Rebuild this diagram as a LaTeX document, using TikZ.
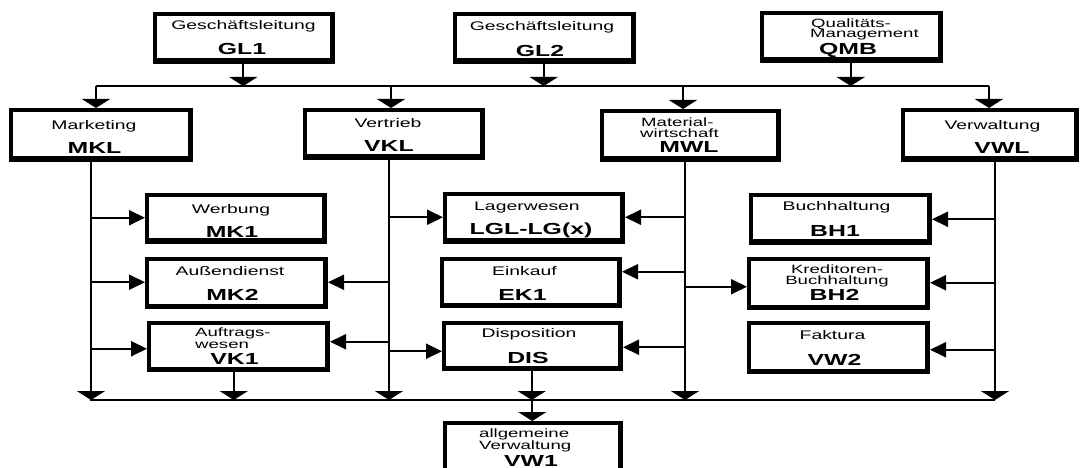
\documentclass[tikz,border=0pt]{standalone}
\usepackage{fontspec}
\setmainfont{Liberation Sans}[FakeStretch=1.55]
\usetikzlibrary{arrows.meta,calc}
\tikzset{
 ob/.style={draw, line width=4pt, inner sep=0pt, outer sep=0pt},
 obsh/.style={line width=3pt, line cap=butt, line join=miter},
 tn/.style={anchor=base, inner sep=0pt, font=\fontsize{12.5}{13}\selectfont},
 tnw/.style={anchor=base west, inner sep=0pt, font=\fontsize{12}{13}\selectfont},
 ts/.style={anchor=base, inner sep=0pt, font=\fontsize{12}{13}\selectfont},
 tb/.style={anchor=base, inner sep=0pt, font=\fontsize{16}{16}\selectfont\bfseries},
 conn/.style={line width=2pt},
 varr/.style={conn, -{Triangle[width=28pt,length=9pt]}},
 harr/.style={conn, -{Triangle[width=15pt,length=16pt]}},
 tobox/.style={shorten >=2pt},
 busline/.style={line width=1.7pt},
}
% box: name, x1, y1, x2, y2 (outer edges, y downwards)
\newcommand\orgbox[5]{%
 \node[ob, minimum width={#4-#2-5.5}, minimum height={#5-#3-5.5}] (#1) at ({(#2+#4)/2-0.75},{(#3+#5)/2-0.75}) {};
 \draw[obsh] ([shift={(2,-2)}]#1.north east) -- ([shift={(2,2)}]#1.south east) -- ([shift={(-2,2)}]#1.south west);
}
% text lines: name, x (centre or left), y (visual centre), text
\newcommand\tN[4]{\node[tn] (#1) at (#2,{#3+4.5}) {#4};}
\newcommand\tS[4]{\node[ts] (#1) at (#2,{#3+4.3}) {#4};}
\newcommand\tW[4]{\node[tnw] (#1) at (#2,{#3+4.3}) {#4};}
\newcommand\tB[4]{\node[tb] (#1) at (#2,{#3+4}) {#4};}
\begin{document}
\begin{tikzpicture}[x=1pt,y=-1pt]
\useasboundingbox (0,0) rectangle (1080,468);
\clip (0,0) rectangle (1080,468);
% boxes
\orgbox{gl1}{153}{12}{335}{64}
\orgbox{gl2}{453}{12}{636}{64}
\orgbox{qmb}{760}{11}{943}{63}
\orgbox{mkl}{9}{108}{193}{162}
\orgbox{vkl}{303}{108}{485}{160}
\orgbox{mwl}{600}{109}{781}{162}
\orgbox{vwl}{901}{108}{1079}{162}
\orgbox{mk1}{145}{193}{327}{244}
\orgbox{mk2}{145}{257}{328}{309}
\orgbox{vk1}{147}{321}{330}{372}
\orgbox{lgl}{443}{192}{625}{244}
\orgbox{ek1}{440}{257}{622}{308}
\orgbox{dis}{442}{321}{623}{371}
\orgbox{bh1}{749}{193}{932}{245}
\orgbox{bh2}{747}{257}{930}{310}
\orgbox{vw2}{747}{321}{930}{374}
\orgbox{vw1}{443}{421}{623}{473}
% texts
\tN{gl1a}{243.5}{25.5}{Geschäftsleitung}
\tB{gl1b}{242}{50.5}{GL1}
\tN{gl2a}{542}{26}{Geschäftsleitung}
\tB{gl2b}{540}{52.5}{GL2}
\tW{qmba}{811}{23}{Qualitäts-}
\tW{qmbb}{810}{33}{Management}
\tB{qmbc}{848}{51}{QMB}
\tN{mkla}{94}{125}{Marketing}
\tB{mklb}{94.5}{149.5}{MKL}
\tN{vkla}{388}{123.5}{Vertrieb}
\tB{vklb}{389}{148}{VKL}
\tW{mwla}{641}{122}{Material-}
\tW{mwlb}{640}{133}{wirtschaft}
\tB{mwlc}{689}{149}{MWL}
\tN{vwla}{992.5}{125}{Verwaltung}
\tB{vwlb}{1002}{149.5}{VWL}
\tN{mk1a}{231}{209}{Werbung}
\tB{mk1b}{232}{233}{MK1}
\tN{mk2a}{230}{271}{Außendienst}
\tB{mk2b}{232.5}{296.5}{MK2}
\tW{vk1a}{195}{332}{Auftrags-}
\tW{vk1b}{195}{344}{wesen}
\tB{vk1c}{234.5}{360}{VK1}
\tN{lgla}{527}{206}{Lagerwesen}
\tB{lglb}{531}{231}{LGL-LG(x)}
\tN{ek1a}{524.5}{271}{Einkauf}
\tB{ek1b}{522.5}{296.5}{EK1}
\tN{disa}{529}{333}{Disposition}
\tB{disb}{528}{359.5}{DIS}
\tN{bh1a}{836.5}{206.5}{Buchhaltung}
\tB{bh1b}{835}{232.5}{BH1}
\tS{bh2a}{837}{269}{Kreditoren-}
\tS{bh2b}{837}{280}{Buchhaltung}
\tB{bh2c}{834.5}{296.5}{BH2}
\tN{vw2a}{832.5}{335}{Faktura}
\tB{vw2b}{834.5}{361.5}{VW2}
\tW{vw1a}{479}{433}{allgemeine}
\tW{vw1b}{479}{445}{Verwaltung}
\tB{vw1c}{531}{462}{VW1}
% top bus
\coordinate (busL) at (96,86);
\coordinate (busR) at (989,86);
\coordinate (bvk) at (391,86);
\coordinate (bmw) at (683,86);
\draw[busline] (busL) -- (busR);
\draw[varr] (gl1.south) -- (gl1.south |- busL);
\draw[varr] (gl2.south) -- (gl2.south |- busL);
\draw[varr] (qmb.south) -- (qmb.south |- busL);
\draw[varr,tobox] (busL) -- (busL |- mkl.north);
\draw[varr,tobox] (bvk) -- (bvk |- vkl.north);
\draw[varr,tobox] (bmw) -- (bmw |- mwl.north);
\draw[varr,tobox] (busR) -- (busR |- vwl.north);
% bottom bus and department lines
\coordinate (bbL) at (90,400);
\coordinate (bbR) at (995,400);
\coordinate (mx) at (91,400);
\coordinate (vx) at (389,400);
\coordinate (wx) at (685,400);
\coordinate (rx) at (995,400);
\draw[busline] (bbL) -- (bbR);
\draw[varr] (mx |- mkl.south) -- (mx);
\draw[varr] (vx |- vkl.south) -- (vx);
\draw[varr] (wx |- mwl.south) -- (wx);
\draw[varr] (rx |- vwl.south) -- (rx);
% marketing branches
\draw[harr,tobox] (mk1.west -| mx) -- (mk1.west);
\draw[harr,tobox] (mk2.west -| mx) -- (mk2.west);
\coordinate (vk1l) at ([yshift=-3pt]vk1.west);
\draw[harr,tobox] (vk1l -| mx) -- (vk1l);
% vertrieb branches
\coordinate (mk2r) at ([xshift=3.5pt]mk2.east);
\draw[harr] (mk2r -| vx) -- (mk2r);
\coordinate (vk1r) at ([xshift=3.5pt,yshift=4pt]vk1.east);
\draw[harr] (vk1r -| vx) -- (vk1r);
\draw[harr,tobox] (lgl.west -| vx) -- (lgl.west);
\coordinate (disl) at ([yshift=-6pt]dis.west);
\draw[harr,tobox] (disl -| vx) -- (disl);
% materialwirtschaft branches
\coordinate (lglr) at ([xshift=3.5pt]lgl.east);
\draw[harr] (lglr -| wx) -- (lglr);
\coordinate (ek1r) at ([xshift=3.5pt,yshift=10pt]ek1.east);
\draw[harr] (ek1r -| wx) -- (ek1r);
\coordinate (disr) at ([xshift=3.5pt,yshift=-2pt]dis.east);
\draw[harr] (disr -| wx) -- (disr);
\coordinate (bh2l) at ([yshift=-4pt]bh2.west);
\draw[harr,tobox] (bh2l -| wx) -- (bh2l);
% verwaltung branches
\coordinate (bh1r) at ([xshift=3.5pt,yshift=-1pt]bh1.east);
\draw[harr] (bh1r -| rx) -- (bh1r);
\coordinate (bh2r) at ([xshift=3.5pt]bh2.east);
\draw[harr] (bh2r -| rx) -- (bh2r);
\coordinate (vw2r) at ([xshift=3.5pt,yshift=-3pt]vw2.east);
\draw[harr] (vw2r -| rx) -- (vw2r);
% bottom arrows
\coordinate (vkd) at ([xshift=-4pt]vk1.south);
\draw[varr] (vkd) -- (vkd |- bbL);
\draw[varr] (dis.south) -- (dis.south |- bbL);
\draw[varr,tobox] (vw1.north |- bbL) -- (vw1.north);
\end{tikzpicture}
\end{document}
